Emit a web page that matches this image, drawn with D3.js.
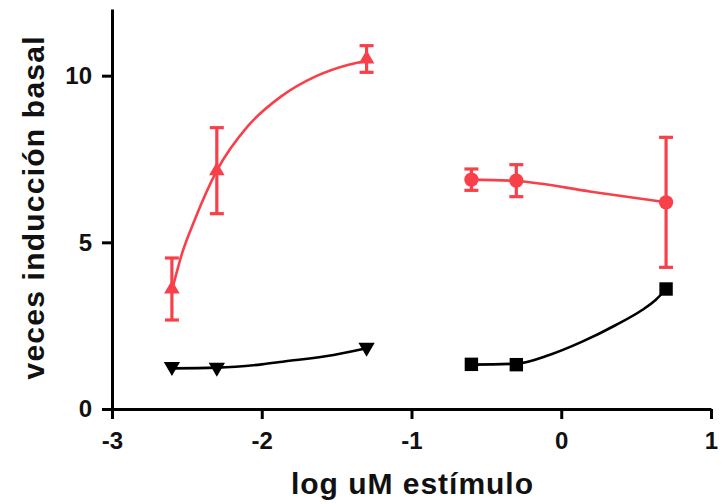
<!DOCTYPE html>
<html><head><meta charset="utf-8">
<script src="https://cdn.jsdelivr.net/npm/d3@7"></script>
<style>body{margin:0;background:#fff}svg{display:block}</style>
</head><body>
<svg id="c" width="721" height="504"></svg>
<script>
// ---- data ----
const xTicks = [-3, -2, -1, 0, 1];
const yTicks = [0, 5, 10];
const xLabel = "log uM estímulo";
const yLabel = "veces inducción basal";

// red triangles (up)
const triX = [-2.6, -2.3, -1.3];
const triY = [3.6, 7.15, 10.5];
const triErr = [0.93, 1.29, 0.4];
const triFitX = [-2.6, -2.53, -2.45, -2.3, -2.09, -1.87, -1.64, -1.42, -1.3];
const triFitY = [3.55, 4.7, 5.65, 7.15, 8.5, 9.38, 9.98, 10.33, 10.45];

// black triangles (down)
const dtriX = [-2.6, -2.3, -1.3];
const dtriY = [1.27, 1.25, 1.85];
const dtriFitX = [-2.6, -2.3, -2.0, -1.86, -1.52, -1.3];
const dtriFitY = [1.22, 1.24, 1.34, 1.42, 1.62, 1.82];

// red circles
const cirX = [-0.6, -0.3, 0.7];
const cirY = [6.88, 6.85, 6.2];
const cirErr = [0.32, 0.48, 1.95];
const cirFitX = [-0.6, -0.3, 0.2, 0.7];
const cirFitY = [6.88, 6.84, 6.52, 6.2];

// black squares
const sqX = [-0.6, -0.3, 0.7];
const sqY = [1.34, 1.33, 3.6];
const sqFitX = [-0.6, -0.3, -0.08, 0.14, 0.365, 0.54, 0.63, 0.7];
const sqFitY = [1.33, 1.36, 1.62, 2.02, 2.52, 2.97, 3.27, 3.6];

const RED = "#f8404a";
const BLACK = "#000";

// ---- layout ----
const svg = d3.select("#c");
const x = d3.scaleLinear().domain([-3, 1]).range([112, 711]);
const y = d3.scaleLinear().domain([0, 12]).range([409, 9]);
const font = "'Liberation Sans', Arial, sans-serif";

// axes
const gx = svg.append("g").attr("transform", `translate(0,${y(0)})`)
  .call(d3.axisBottom(x).tickValues(xTicks).tickFormat(d3.format("d")).tickSize(10).tickSizeOuter(0).tickPadding(13));
const gy = svg.append("g").attr("transform", `translate(${x(-3)},0)`)
  .call(d3.axisLeft(y).tickValues(yTicks).tickSize(10).tickSizeOuter(0).tickPadding(10));
[gx, gy].forEach(g => {
  g.select(".domain").attr("stroke", BLACK).attr("stroke-width", 3);
  g.selectAll(".tick line").attr("stroke", BLACK).attr("stroke-width", 3);
  g.selectAll(".tick text").attr("fill", "#111").attr("font-family", font)
    .attr("font-size", 24).attr("font-weight", "bold");
});
gx.selectAll(".tick text").text(d => d < 0 ? "-" + Math.abs(d) : d);

// axis labels
svg.append("text").attr("x", 412).attr("y", 494).attr("text-anchor", "middle")
  .attr("font-family", font).attr("font-size", 30).attr("font-weight", "bold").attr("fill", "#111")
  .attr("textLength", 242).attr("lengthAdjust", "spacing").text(xLabel);
svg.append("text").attr("transform", "translate(44,208) rotate(-90)").attr("text-anchor", "middle")
  .attr("font-family", font).attr("font-size", 30).attr("font-weight", "bold").attr("fill", "#111")
  .attr("textLength", 343).attr("lengthAdjust", "spacing").text(yLabel);

// fit curves
const line = d3.line().x(d => x(d[0])).y(d => y(d[1])).curve(d3.curveMonotoneX);
function curve(xs, ys, color) {
  svg.append("path").attr("d", line(d3.zip(xs, ys))).attr("fill", "none")
    .attr("stroke", color).attr("stroke-width", 2.6);
}
curve(triFitX, triFitY, RED);
curve(dtriFitX, dtriFitY, BLACK);
curve(cirFitX, cirFitY, RED);
curve(sqFitX, sqFitY, BLACK);

// error bars
function errbars(xs, ys, es, color) {
  const g = svg.append("g").attr("stroke", color).attr("stroke-width", 3.2).attr("fill", "none");
  xs.forEach((xv, i) => {
    const cx = x(xv), y1 = y(ys[i] + es[i]), y2 = y(ys[i] - es[i]);
    g.append("line").attr("x1", cx).attr("x2", cx).attr("y1", y1).attr("y2", y2);
    g.append("line").attr("x1", cx - 7).attr("x2", cx + 7).attr("y1", y1).attr("y2", y1);
    g.append("line").attr("x1", cx - 7).attr("x2", cx + 7).attr("y1", y2).attr("y2", y2);
  });
}
errbars(triX, triY, triErr, RED);
errbars(cirX, cirY, cirErr, RED);

// markers
function markers(xs, ys, type, size, color, rot) {
  svg.append("g").selectAll("path").data(d3.zip(xs, ys)).join("path")
    .attr("d", d3.symbol().type(type).size(size))
    .attr("transform", d => `translate(${x(d[0])},${y(d[1])}) rotate(${rot})`)
    .attr("fill", color);
}
markers(triX, triY, d3.symbolTriangle, 105, RED, 0);
markers(dtriX, dtriY, d3.symbolTriangle, 115, BLACK, 180);
markers(cirX, cirY, d3.symbolCircle, 160, RED, 0);
markers(sqX, sqY, d3.symbolSquare, 180, BLACK, 0);
</script>
</body></html>
